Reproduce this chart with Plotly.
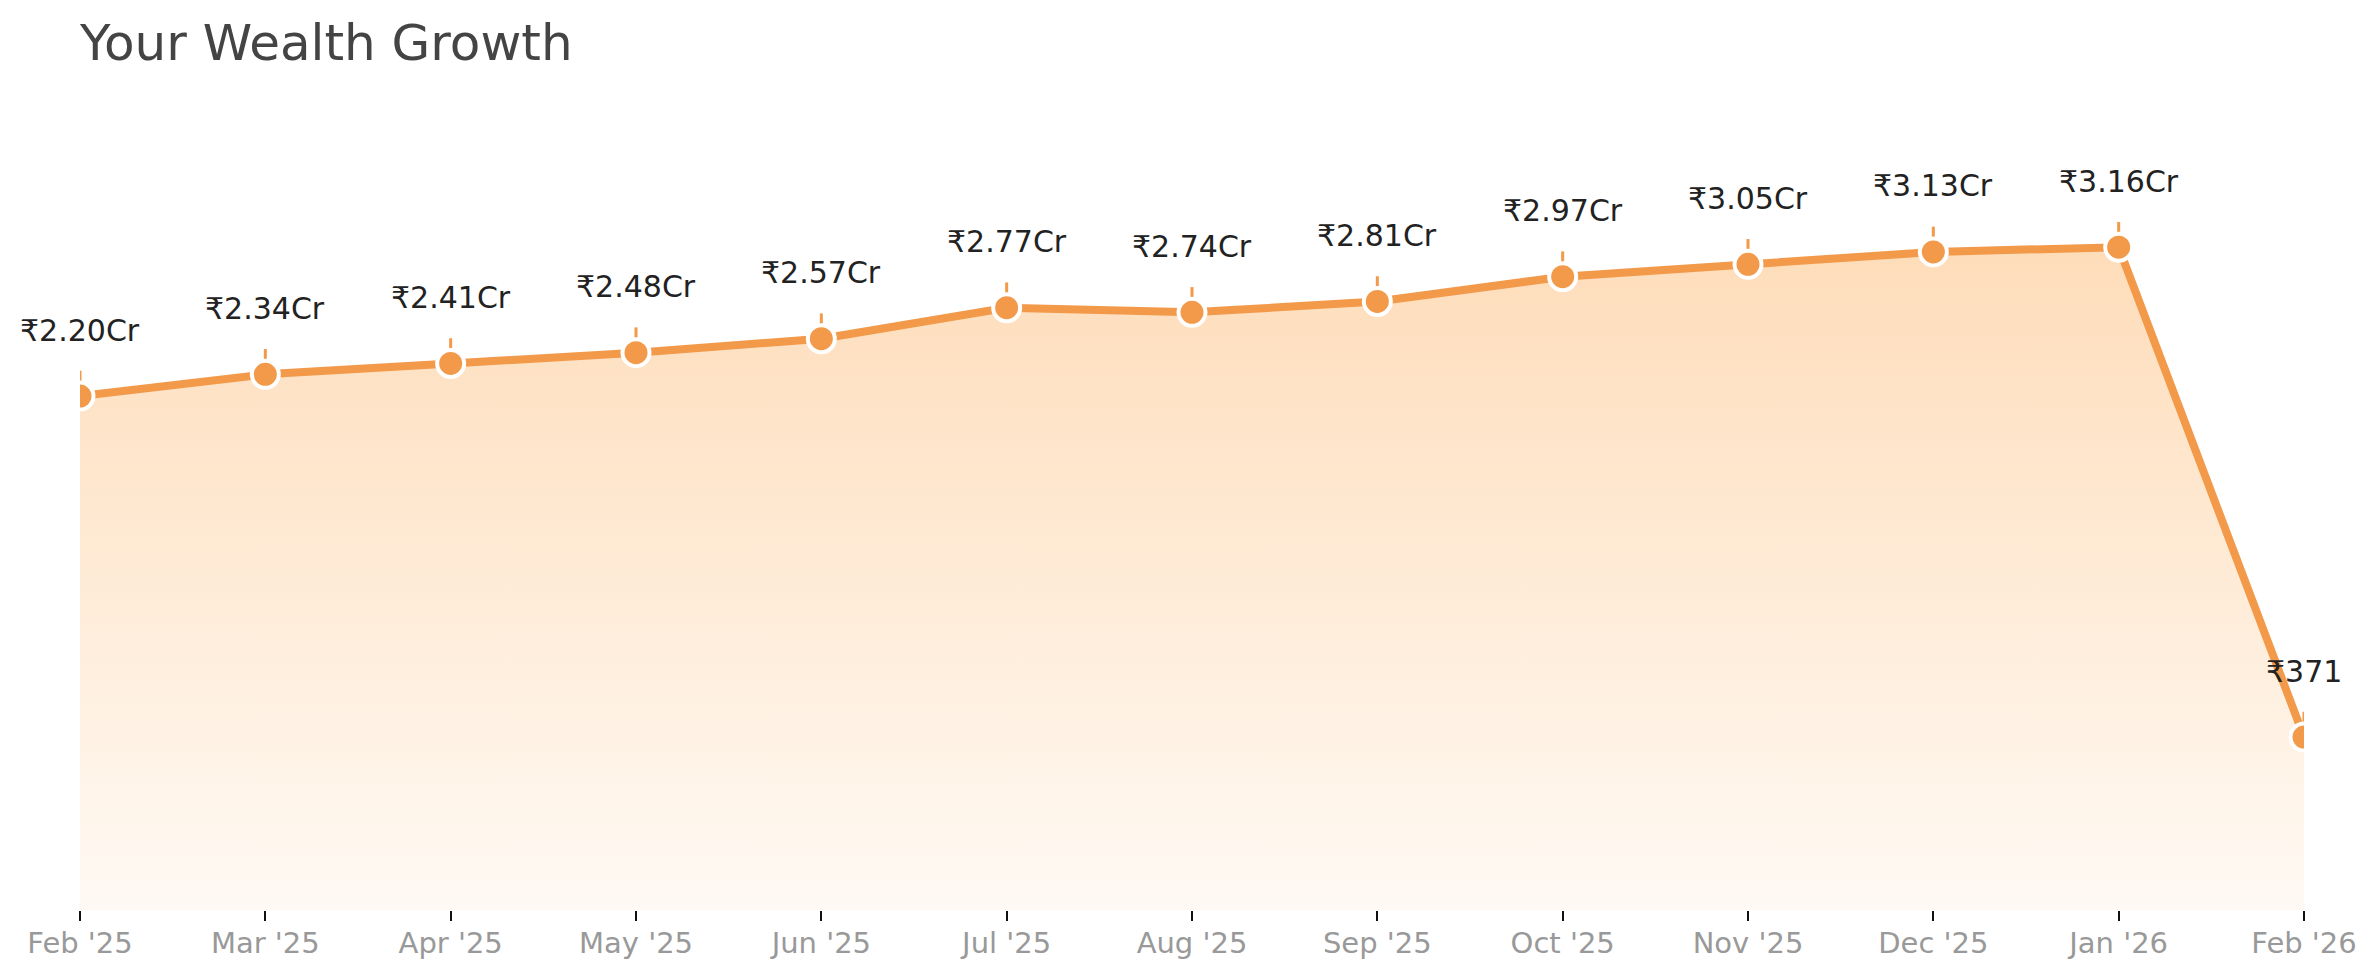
import plotly.graph_objects as go

months = ["Feb '25", "Mar '25", "Apr '25", "May '25", "Jun '25", "Jul '25", "Aug '25",
          "Sep '25", "Oct '25", "Nov '25", "Dec '25", "Jan '26", "Feb '26"]
# net worth in rupees
wealth = [22000000, 23400000, 24100000, 24800000, 25700000, 27700000, 27400000,
          28100000, 29700000, 30500000, 31300000, 31600000, 371]

CRORE = 1e7
ORANGE = "#F2994A"
FONT = "DejaVu Sans"
Y_MIN, Y_MAX = -1.116, 4.11


def fmt_inr(v):
    if v >= CRORE:
        return f"₹{v / CRORE:.2f}Cr"
    return f"₹{v:,.0f}"


y_cr = [v / CRORE for v in wealth]
labels = [fmt_inr(v) for v in wealth]

fig = go.Figure()

# invisible floor so the fill reaches the bottom of the plot
fig.add_trace(go.Scatter(
    x=months, y=[Y_MIN] * len(months), mode="lines",
    line=dict(width=0), hoverinfo="skip", showlegend=False,
))

fig.add_trace(go.Scatter(
    x=months, y=y_cr, mode="lines+markers",
    fill="tonexty",
    fillgradient=dict(
        type="vertical", start=Y_MIN, stop=max(y_cr),
        colorscale=[[0, "rgba(253,186,116,0.08)"], [1, "rgba(253,186,116,0.5)"]],
    ),
    line=dict(color=ORANGE, width=8),
    marker=dict(size=27, color=ORANGE, line=dict(color="white", width=4)),
    error_y=dict(type="constant", value=0.163, valueminus=0, symmetric=False,
                 width=0, thickness=3, color=ORANGE),
    text=labels, hovertemplate="%{x}: %{text}<extra></extra>",
    showlegend=False,
))

for m, y, lab in zip(months, y_cr, labels):
    fig.add_annotation(x=m, y=y, text=lab, showarrow=False, yshift=66,
                       font=dict(family=FONT, size=30, color="#222222"))

# page body has an 8px margin, so the figure is drawn 16px smaller
fig.update_layout(
    width=2363, height=963,
    margin=dict(l=72, r=67, t=92, b=61),
    paper_bgcolor="white", plot_bgcolor="white",
    font=dict(family=FONT),
    title=dict(text="Your Wealth Growth", x=0, xref="paper", xanchor="left",
               y=1 - 34 / 963, yanchor="middle",
               font=dict(family=FONT, size=50, color="#444444")),
)
fig.update_xaxes(type="category", range=[0, len(months) - 1], showgrid=False,
                 zeroline=False, showline=False, ticks="outside", ticklen=10,
                 tickwidth=2, tickcolor="#111111", automargin=False,
                 ticklabelstandoff=-3,
                 tickfont=dict(family=FONT, size=29, color="#999999"))
fig.update_yaxes(range=[Y_MIN, Y_MAX], visible=False, showgrid=False, zeroline=False,
                 automargin=False)

fig.write_html("out.html")
